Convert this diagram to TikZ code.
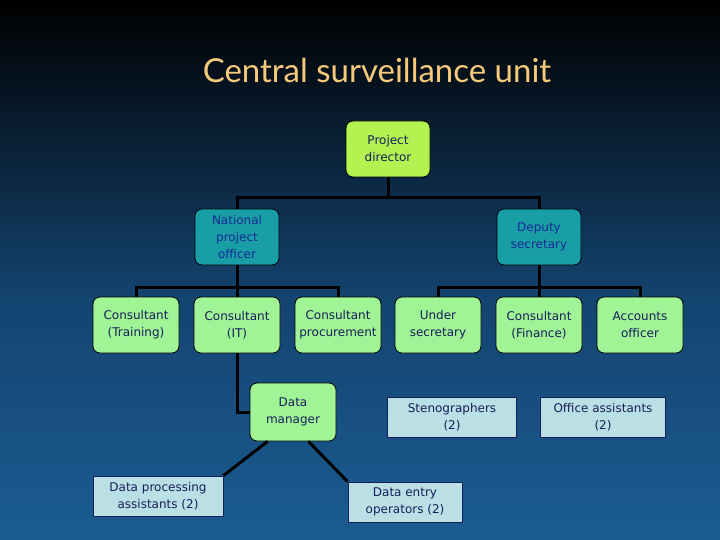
\documentclass[tikz,border=0pt]{standalone}
\usepackage{fontspec}
\setmainfont{DejaVu Sans}
\newfontfamily\titlefont{Lato}
\usetikzlibrary{positioning}
\definecolor{bgtop}{RGB}{0,0,0}
\definecolor{bgmid}{RGB}{20,68,112}
\definecolor{bgbot}{RGB}{27,92,146}
\definecolor{lime}{RGB}{180,242,82}
\definecolor{tealbox}{RGB}{24,158,164}
\definecolor{mint}{RGB}{160,244,150}
\definecolor{paleblue}{RGB}{186,224,230}
\definecolor{navytext}{RGB}{22,30,88}
\definecolor{tealtext}{RGB}{22,42,150}
\definecolor{titlecol}{RGB}{246,202,122}

\begin{document}
\begin{tikzpicture}[x=1pt, y=-1pt,
  every node/.style={inner sep=2pt, align=center,
                     font=\fontsize{12}{17}\selectfont},
  head/.style={draw=black, line width=0.8pt, rounded corners=7pt,
               minimum width=84pt, minimum height=56pt, fill=lime,
               text=navytext},
  deputy/.style={draw=black, line width=0.8pt, rounded corners=7pt,
                 minimum width=84pt, minimum height=56pt, fill=tealbox,
                 text=tealtext},
  post/.style={draw=black, line width=0.8pt, rounded corners=7pt,
               minimum width=86pt, minimum height=56pt, fill=mint,
               text=navytext},
  staff/.style={draw=navytext, line width=0.8pt, fill=paleblue,
                text=navytext, minimum height=40pt},
  link/.style={draw=black, line width=3pt}]
% background
\useasboundingbox (0,0) rectangle (720,540);
\shade[top color=bgtop, bottom color=bgmid] (0,0) rectangle (720,300);
\fill[bgmid] (0,299) rectangle (720,301);
\shade[top color=bgmid, bottom color=bgbot] (0,300) rectangle (720,540);
\node[text=titlecol, font=\titlefont\fontsize{33}{38}\selectfont] (title) at (377,70)
  {Central surveillance unit};
% top two levels
\node[head] (pd) at (388,149) {Project\\director};
\node[deputy] (npo) at (237,237) {National\\project\\officer};
\node[deputy] (ds) at (539,237) {Deputy\\secretary};
% third level
\node[post] (ctrain) at (136,325) {Consultant\\(Training)};
\node[post] (cit) at (237,325) {Consultant\\(IT)};
\node[post] (cproc) at (338,325) {Consultant\\procurement};
\node[post] (usec) at (438,325) {Under\\secretary};
\node[post] (cfin) at (539,325) {Consultant\\(Finance)};
\node[post] (acc) at (640,325) {Accounts\\officer};
% lower level
\node[post, minimum height=58pt] (dm) at (293,412) {Data\\manager};
\node[staff, minimum width=129pt] (steno) at (452,417) {Stenographers\\(2)};
\node[staff, minimum width=125pt] (office) at (603,417) {Office assistants\\(2)};
\node[staff, minimum width=130pt] (dpa) at (158,496) {Data processing\\assistants (2)};
\node[staff, minimum width=114pt] (deo) at (405,502) {Data entry\\operators (2)};
% connectors
\draw[link] (pd.south) -- ++(0,20) coordinate (pdj);
\draw[link] (pdj) -| (npo.north);
\draw[link] (pdj) -| (ds.north);
\draw[link] (npo.south) -- ++(0,22) coordinate (npoj);
\draw[link] (npoj) -| (ctrain.north);
\draw[link] (npoj) -| (cit.north);
\draw[link] (npoj) -| (cproc.north);
\draw[link] (ds.south) -- ++(0,22) coordinate (dsj);
\draw[link] (dsj) -| (usec.north);
\draw[link] (dsj) -| (cfin.north);
\draw[link] (dsj) -| (acc.north);
\draw[link] (cit.south) |- (dm.west);
\draw[link] ([xshift=18pt]dm.south west) -- (dpa.north east);
\draw[link] ([xshift=-28pt]dm.south east) -- (deo.north west);
\end{tikzpicture}
\end{document}
